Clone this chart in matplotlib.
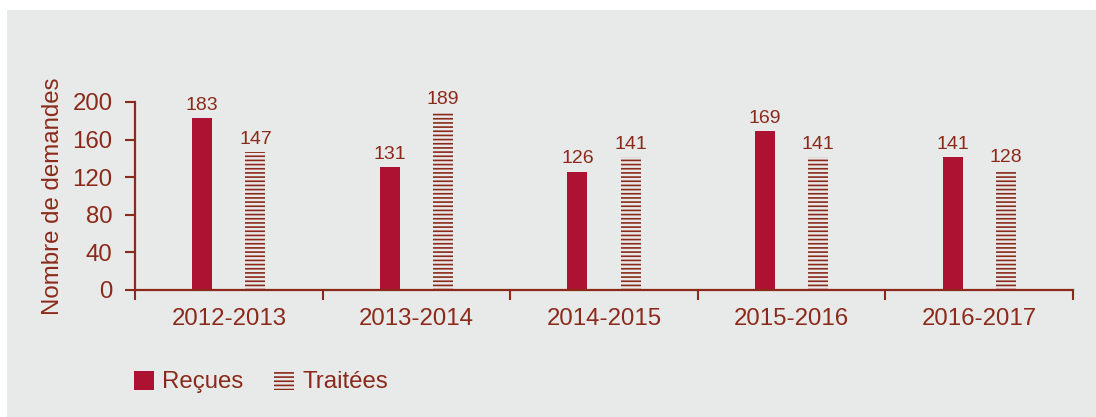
import numpy as np
import matplotlib.pyplot as plt
from matplotlib.patches import Rectangle, Patch

plt.rcParams['font.family'] = ['Liberation Sans', 'DejaVu Sans']
plt.rcParams['hatch.linewidth'] = 1.2

# Data
periods = ['2012-2013', '2013-2014', '2014-2015', '2015-2016', '2016-2017']
recues = [183, 131, 126, 169, 141]
traitees = [147, 189, 141, 141, 128]
yticks = [0, 40, 80, 120, 160, 200]

# Colours
BG = '#E8E9E9'
RED = '#AE1232'
BROWN = '#8B2A1A'
FS = 17.3

fig = plt.figure(figsize=(10.96, 4.17), dpi=100)
fig.patches.append(Rectangle((7 / 1096, 0), 1, 1 - 10 / 417, transform=fig.transFigure,
                             facecolor=BG, edgecolor='none', zorder=-10))

ax = fig.add_axes([135 / 1096, 1 - 290 / 417, (1073 - 135) / 1096, (290 - 102) / 417])
ax.set_facecolor('none')

x = np.arange(len(periods))
w = 0.107
b1 = ax.bar(x - 0.142, recues, w, color=RED, edgecolor='none')
b2 = ax.bar(x + 0.142, traitees, w, facecolor='none', edgecolor=BROWN,
            hatch='----', linewidth=0)

ax.bar_label(b1, padding=3, fontsize=14, color=BROWN)
ax.bar_label(b2, padding=3, fontsize=14, color=BROWN)

ax.set_xlim(-0.5, len(periods) - 0.5)
ax.set_ylim(0, 200)
ax.set_yticks(yticks)
ax.set_xticks(x)
ax.set_xticklabels(periods)
ax.set_xticks(np.arange(len(periods) + 1) - 0.5, minor=True)
ax.tick_params(axis='x', which='major', length=0, pad=13, labelsize=FS, labelcolor=BROWN)
ax.tick_params(axis='x', which='minor', length=7, width=1.5, color=BROWN)
ax.tick_params(axis='y', length=7.2, width=1.5, color=BROWN, labelsize=FS, labelcolor=BROWN, pad=9)

for s in ['top', 'right']:
    ax.spines[s].set_visible(False)
for s in ['left', 'bottom']:
    ax.spines[s].set_color(BROWN)
    ax.spines[s].set_linewidth(1.6)

ax.set_ylabel('Nombre de demandes', fontsize=FS, color=BROWN)
ax.yaxis.set_label_coords((64 - 135) / 938, 0.5)

handles = [Patch(facecolor=RED, edgecolor='none'),
           Patch(facecolor='none', edgecolor=BROWN, hatch='----', linewidth=0)]
fig.legend(handles, ['Reçues', 'Traitées'], loc='center left',
           bbox_to_anchor=(112 / 1096, 1 - 382 / 417), ncol=2, frameon=False,
           fontsize=FS, labelcolor=BROWN, handlelength=0.84, handleheight=0.84,
           handletextpad=0.36, columnspacing=1.25)

fig.savefig('out.png', dpi=100)
